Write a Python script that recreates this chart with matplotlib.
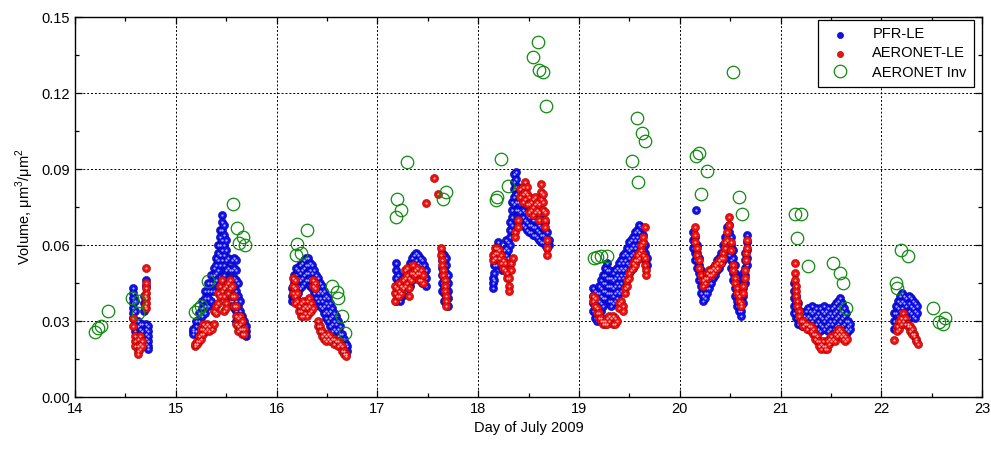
#!/usr/bin/env python3
"""
Aerosol volume concentration, PFR-LE vs AERONET-LE vs AERONET inversions,
14-23 July 2009.
"""

import numpy as np
import matplotlib.pyplot as plt
from matplotlib.ticker import MultipleLocator

plt.rcParams['font.family'] = ['Liberation Sans', 'DejaVu Sans']
plt.rcParams['mathtext.fontset'] = 'custom'
plt.rcParams['mathtext.rm'] = 'Liberation Sans'

# PFR-LE: columns of (day, [volumes])
pfr_d14 = [(14.58, [0.043, 0.041, 0.039, 0.037, 0.035, 0.033, 0.031]),
           (14.60, [0.038, 0.034, 0.030, 0.028, 0.026]),
           (14.62, [0.030, 0.028, 0.025, 0.023]),
           (14.64, [0.029, 0.027, 0.024, 0.022]),
           (14.66, [0.029, 0.026, 0.023, 0.021]),
           (14.68, [0.040, 0.037, 0.034]),
           (14.70, [0.046, 0.044, 0.029, 0.027, 0.025, 0.023, 0.021]),
           (14.72, [0.028, 0.026, 0.024, 0.022, 0.020, 0.019])]
pfr_d15 = [(15.17, [0.026, 0.025, 0.027]), (15.20, [0.028, 0.026, 0.030]),
           (15.23, [0.033, 0.030, 0.028]), (15.26, [0.038, 0.035, 0.032, 0.029]),
           (15.29, [0.042, 0.039, 0.036, 0.033]), (15.32, [0.045, 0.042, 0.039, 0.036]),
           (15.35, [0.048, 0.045, 0.042, 0.038]), (15.38, [0.051, 0.048, 0.045, 0.042]),
           (15.40, [0.055, 0.052, 0.049, 0.046]), (15.42, [0.060, 0.057, 0.054, 0.050]),
           (15.44, [0.066, 0.063, 0.060, 0.056, 0.052]),
           (15.46, [0.072, 0.069, 0.066, 0.062, 0.058, 0.054]),
           (15.48, [0.068, 0.064, 0.060, 0.056, 0.052, 0.048]),
           (15.50, [0.062, 0.058, 0.054, 0.050, 0.046]),
           (15.52, [0.055, 0.051, 0.047, 0.043]), (15.54, [0.050, 0.046, 0.042, 0.038]),
           (15.56, [0.054, 0.050, 0.046, 0.042, 0.038]),
           (15.58, [0.055, 0.051, 0.047, 0.043, 0.039, 0.035]),
           (15.60, [0.054, 0.050, 0.046, 0.042, 0.038, 0.034, 0.030]),
           (15.62, [0.045, 0.040, 0.036, 0.032, 0.028]),
           (15.64, [0.038, 0.034, 0.030, 0.027]), (15.66, [0.032, 0.029, 0.026]),
           (15.68, [0.030, 0.027, 0.025]), (15.70, [0.028, 0.026, 0.024])]
pfr_d16 = [(16.15, [0.043, 0.040, 0.038]), (16.17, [0.048, 0.045, 0.042, 0.039]),
           (16.19, [0.051, 0.048, 0.045, 0.042, 0.039]), (16.21, [0.050, 0.047, 0.044, 0.041]),
           (16.23, [0.052, 0.049, 0.046, 0.043]), (16.25, [0.053, 0.050, 0.047, 0.044]),
           (16.27, [0.054, 0.051, 0.048, 0.045]), (16.29, [0.055, 0.052, 0.049, 0.046]),
           (16.31, [0.055, 0.052, 0.049, 0.046]), (16.33, [0.053, 0.050, 0.047, 0.044]),
           (16.35, [0.052, 0.049, 0.046, 0.043]), (16.37, [0.050, 0.047, 0.044, 0.041]),
           (16.39, [0.048, 0.045, 0.042, 0.039]), (16.41, [0.047, 0.044, 0.041, 0.038]),
           (16.43, [0.045, 0.042, 0.039, 0.036]), (16.45, [0.044, 0.041, 0.038, 0.035]),
           (16.47, [0.042, 0.039, 0.036, 0.033]), (16.49, [0.040, 0.037, 0.034, 0.031]),
           (16.51, [0.039, 0.036, 0.033, 0.030]), (16.53, [0.037, 0.034, 0.031, 0.028]),
           (16.55, [0.035, 0.032, 0.029, 0.026]), (16.57, [0.033, 0.030, 0.027]),
           (16.59, [0.032, 0.029, 0.026]), (16.61, [0.030, 0.027, 0.024]),
           (16.63, [0.028, 0.025, 0.022]), (16.65, [0.025, 0.022, 0.020]),
           (16.67, [0.023, 0.021, 0.019]), (16.69, [0.021, 0.019, 0.018]),
           (16.70, [0.020, 0.018])]
pfr_d17 = [(17.18, [0.053, 0.050, 0.047, 0.044, 0.041, 0.038]),
           (17.20, [0.048, 0.045, 0.042, 0.039]), (17.22, [0.043, 0.040, 0.038]),
           (17.24, [0.045, 0.042, 0.040]), (17.26, [0.047, 0.044, 0.041]),
           (17.28, [0.048, 0.045, 0.042]), (17.30, [0.050, 0.047, 0.044]),
           (17.32, [0.053, 0.050, 0.047, 0.044]), (17.34, [0.055, 0.052, 0.049, 0.046]),
           (17.36, [0.056, 0.053, 0.050, 0.047]), (17.38, [0.057, 0.054, 0.051, 0.048]),
           (17.40, [0.056, 0.053, 0.050, 0.047]), (17.42, [0.055, 0.052, 0.049, 0.046]),
           (17.44, [0.054, 0.051, 0.048, 0.045]), (17.46, [0.052, 0.049, 0.046]),
           (17.48, [0.050, 0.047, 0.044]),
           (17.64, [0.057, 0.054, 0.051, 0.048, 0.045, 0.042]),
           (17.66, [0.056, 0.053, 0.050, 0.047, 0.044, 0.041, 0.038]),
           (17.68, [0.055, 0.052, 0.049, 0.046, 0.043, 0.040, 0.037]),
           (17.70, [0.048, 0.045, 0.042, 0.039, 0.036])]
pfr_d18 = [(18.15, [0.043, 0.045, 0.047]), (18.16, [0.046, 0.049, 0.052]),
           (18.18, [0.052, 0.055, 0.058]), (18.20, [0.056, 0.059, 0.061]),
           (18.22, [0.052, 0.055, 0.058]), (18.24, [0.050, 0.053]),
           (18.26, [0.052, 0.055, 0.058]), (18.28, [0.056, 0.059, 0.062]),
           (18.30, [0.055, 0.058, 0.061]), (18.32, [0.060, 0.063, 0.066, 0.069]),
           (18.34, [0.068, 0.071, 0.074, 0.077]),
           (18.36, [0.076, 0.079, 0.082, 0.085, 0.088]),
           (18.38, [0.074, 0.077, 0.080, 0.083, 0.086, 0.089]),
           (18.40, [0.068, 0.071, 0.074, 0.077, 0.080, 0.083]),
           (18.42, [0.070, 0.073, 0.076, 0.079]), (18.44, [0.068, 0.071, 0.074, 0.077]),
           (18.46, [0.067, 0.070, 0.073, 0.076]), (18.48, [0.066, 0.069, 0.072, 0.075]),
           (18.50, [0.065, 0.068, 0.071, 0.074]), (18.52, [0.065, 0.068, 0.071]),
           (18.54, [0.064, 0.067, 0.070]), (18.56, [0.064, 0.067, 0.070]),
           (18.58, [0.063, 0.066, 0.069]), (18.60, [0.062, 0.065, 0.068]),
           (18.62, [0.061, 0.064, 0.067, 0.070]), (18.64, [0.061, 0.064, 0.067, 0.070]),
           (18.66, [0.060, 0.063, 0.066, 0.069]), (18.68, [0.059, 0.062, 0.065]),
           (18.70, [0.060, 0.062])]
pfr_d19 = [(19.14, [0.043, 0.040, 0.037, 0.034]),
           (19.16, [0.042, 0.039, 0.036, 0.033, 0.031]),
           (19.18, [0.041, 0.038, 0.035, 0.032, 0.030]),
           (19.20, [0.044, 0.041, 0.038, 0.035, 0.032]),
           (19.22, [0.046, 0.043, 0.040, 0.037, 0.034]),
           (19.24, [0.048, 0.045, 0.042, 0.039, 0.036]),
           (19.26, [0.051, 0.048, 0.045, 0.042, 0.039]),
           (19.28, [0.053, 0.050, 0.047, 0.044, 0.041]),
           (19.30, [0.050, 0.047, 0.044, 0.041, 0.038]),
           (19.32, [0.047, 0.044, 0.041, 0.038, 0.036]),
           (19.34, [0.049, 0.046, 0.043, 0.040, 0.037]),
           (19.36, [0.050, 0.047, 0.044, 0.041, 0.038]),
           (19.38, [0.051, 0.048, 0.045, 0.042, 0.039]),
           (19.40, [0.053, 0.050, 0.047, 0.044, 0.041]),
           (19.42, [0.054, 0.051, 0.048, 0.045, 0.042]),
           (19.44, [0.056, 0.053, 0.050, 0.047, 0.044]),
           (19.46, [0.057, 0.054, 0.051, 0.048, 0.045]),
           (19.48, [0.059, 0.056, 0.053, 0.050, 0.047]),
           (19.50, [0.061, 0.058, 0.055, 0.052, 0.049]),
           (19.52, [0.062, 0.059, 0.056, 0.053, 0.050]),
           (19.54, [0.063, 0.060, 0.057, 0.054, 0.051]),
           (19.56, [0.065, 0.062, 0.059, 0.056, 0.053]),
           (19.58, [0.066, 0.063, 0.060, 0.057]),
           (19.60, [0.068, 0.065, 0.062, 0.059]),
           (19.62, [0.067, 0.064, 0.061, 0.058]),
           (19.64, [0.064, 0.061, 0.058, 0.055]),
           (19.66, [0.060, 0.057, 0.054]),
           (19.68, [0.055, 0.052])]
pfr_d20 = [(20.13, [0.065, 0.062, 0.059]), (20.15, [0.063, 0.060, 0.057, 0.054]),
           (20.16, [0.074]),
           (20.17, [0.060, 0.057, 0.054, 0.051]), (20.19, [0.055, 0.052, 0.049, 0.046]),
           (20.21, [0.050, 0.047, 0.044, 0.041]), (20.23, [0.046, 0.043, 0.040, 0.038]),
           (20.25, [0.044, 0.041, 0.039]), (20.27, [0.046, 0.043, 0.041]),
           (20.29, [0.047, 0.045, 0.043]), (20.31, [0.049, 0.047, 0.045]),
           (20.33, [0.051, 0.049, 0.047]), (20.35, [0.052, 0.050, 0.048]),
           (20.37, [0.054, 0.052, 0.050]), (20.39, [0.055, 0.053, 0.051]),
           (20.41, [0.057, 0.055, 0.053]), (20.43, [0.060, 0.057, 0.054]),
           (20.45, [0.063, 0.060, 0.057]), (20.47, [0.067, 0.064, 0.061, 0.058]),
           (20.49, [0.068, 0.065, 0.062, 0.059, 0.056]),
           (20.51, [0.063, 0.060, 0.057, 0.054, 0.051]),
           (20.53, [0.058, 0.055, 0.052, 0.049, 0.046]),
           (20.55, [0.052, 0.049, 0.046, 0.043, 0.040]),
           (20.57, [0.047, 0.044, 0.041, 0.038, 0.036]),
           (20.59, [0.043, 0.040, 0.037, 0.034]), (20.61, [0.040, 0.037, 0.034, 0.032]),
           (20.63, [0.049, 0.046, 0.043, 0.040, 0.037]),
           (20.65, [0.057, 0.054, 0.051, 0.048, 0.045]),
           (20.67, [0.064, 0.061, 0.058, 0.055, 0.052])]
pfr_d21 = [(21.13, [0.045, 0.042, 0.039, 0.036, 0.033]), (21.15, [0.040, 0.037, 0.034, 0.031]),
           (21.17, [0.037, 0.034, 0.031, 0.029]), (21.19, [0.034, 0.031, 0.029]),
           (21.21, [0.033, 0.030, 0.028]), (21.23, [0.032, 0.030, 0.028]),
           (21.25, [0.034, 0.031, 0.028]), (21.27, [0.035, 0.032, 0.029, 0.027]),
           (21.29, [0.034, 0.031, 0.028]), (21.31, [0.036, 0.033, 0.030, 0.027]),
           (21.33, [0.034, 0.031, 0.028]), (21.35, [0.035, 0.032, 0.029, 0.026]),
           (21.37, [0.033, 0.030, 0.027]), (21.39, [0.035, 0.032, 0.029, 0.026]),
           (21.41, [0.034, 0.031, 0.028]), (21.43, [0.036, 0.033, 0.030, 0.027]),
           (21.45, [0.034, 0.031, 0.028]), (21.47, [0.035, 0.032, 0.029, 0.026]),
           (21.49, [0.033, 0.030, 0.027]), (21.51, [0.035, 0.032, 0.029]),
           (21.53, [0.036, 0.033, 0.030, 0.027]), (21.55, [0.037, 0.034, 0.031, 0.028]),
           (21.57, [0.038, 0.035, 0.032, 0.029]), (21.59, [0.039, 0.036, 0.033, 0.030]),
           (21.61, [0.037, 0.034, 0.031, 0.028]), (21.63, [0.035, 0.032, 0.029, 0.026]),
           (21.65, [0.033, 0.030, 0.027, 0.025]), (21.67, [0.030, 0.028, 0.026]),
           (21.69, [0.029, 0.027])]
pfr_d22 = [(22.13, [0.033, 0.030, 0.027]), (22.15, [0.036, 0.033, 0.030, 0.027]),
           (22.17, [0.038, 0.035, 0.032, 0.029]), (22.19, [0.040, 0.037, 0.034, 0.031]),
           (22.21, [0.041, 0.038, 0.035, 0.032]), (22.23, [0.040, 0.037, 0.034, 0.031]),
           (22.25, [0.039, 0.036, 0.033, 0.030]), (22.27, [0.040, 0.037, 0.034, 0.031]),
           (22.29, [0.039, 0.036, 0.033]), (22.31, [0.038, 0.035, 0.032]),
           (22.33, [0.037, 0.034, 0.031]), (22.35, [0.036, 0.033])]

# AERONET-LE
aer_d14 = [(14.70, [0.051, 0.045, 0.043, 0.041, 0.039, 0.037, 0.035]),
           (14.69, [0.040, 0.036]), (14.58, [0.031, 0.028]),
           (14.60, [0.024, 0.022, 0.020]), (14.62, [0.023, 0.020, 0.018, 0.017]),
           (14.64, [0.024, 0.021, 0.019]), (14.66, [0.022, 0.020])]
aer_d15 = [(15.19, [0.020, 0.021]), (15.21, [0.021, 0.022]), (15.23, [0.022, 0.024]),
           (15.25, [0.023, 0.025, 0.027]), (15.27, [0.025, 0.027, 0.029]),
           (15.29, [0.026, 0.028]), (15.31, [0.027, 0.029]), (15.33, [0.026, 0.028]),
           (15.36, [0.027]), (15.38, [0.029, 0.034]), (15.40, [0.033, 0.036]),
           (15.42, [0.037, 0.041]), (15.44, [0.040, 0.044]), (15.46, [0.046, 0.042]),
           (15.48, [0.043, 0.040, 0.034]), (15.50, [0.044, 0.037, 0.035]),
           (15.52, [0.045, 0.041]), (15.54, [0.046, 0.043]), (15.56, [0.044, 0.040]),
           (15.58, [0.040, 0.036]), (15.60, [0.036, 0.032, 0.029]),
           (15.62, [0.031, 0.028, 0.026]), (15.64, [0.032, 0.029, 0.027]),
           (15.66, [0.030, 0.027, 0.025]), (15.68, [0.027, 0.025])]
aer_d16 = [(16.16, [0.047, 0.044, 0.041]), (16.18, [0.046, 0.043, 0.040, 0.037]),
           (16.20, [0.041, 0.038]), (16.22, [0.036, 0.034]),
           (16.24, [0.037, 0.034, 0.032]), (16.26, [0.038, 0.035, 0.032]),
           (16.28, [0.036, 0.033]), (16.30, [0.038, 0.035, 0.032]),
           (16.32, [0.039, 0.036, 0.033]), (16.34, [0.037, 0.034]),
           (16.36, [0.046, 0.044, 0.035]), (16.38, [0.045, 0.043]),
           (16.41, [0.030, 0.028]), (16.43, [0.028, 0.026]), (16.45, [0.026, 0.024]),
           (16.47, [0.025, 0.023]), (16.49, [0.024, 0.022]), (16.51, [0.025, 0.023]),
           (16.53, [0.024, 0.022]), (16.55, [0.023]), (16.57, [0.023, 0.021]),
           (16.59, [0.022]), (16.61, [0.022, 0.020]), (16.63, [0.021]),
           (16.65, [0.020, 0.018]), (16.67, [0.018, 0.017]), (16.69, [0.017, 0.016])]
aer_d17 = [(17.17, [0.044, 0.041, 0.038]), (17.19, [0.043, 0.040]),
           (17.21, [0.045, 0.042, 0.040]), (17.23, [0.044, 0.041]), (17.25, [0.046, 0.043]),
           (17.27, [0.050, 0.047, 0.044]), (17.29, [0.051, 0.048, 0.045]),
           (17.31, [0.047, 0.043, 0.040]), (17.33, [0.049, 0.046]), (17.35, [0.052, 0.049]),
           (17.37, [0.050, 0.048]), (17.39, [0.051, 0.049]), (17.41, [0.049, 0.046]),
           (17.43, [0.050, 0.046]), (17.45, [0.048, 0.045]),
           (17.48, [0.0766]), (17.56, [0.0865]), (17.60, [0.0801]),
           (17.63, [0.059, 0.056]), (17.64, [0.054, 0.052]), (17.65, [0.050, 0.048]),
           (17.67, [0.046, 0.044, 0.042]), (17.68, [0.040, 0.038, 0.036])]
aer_d18 = [(18.15, [0.054, 0.056]), (18.17, [0.055, 0.057, 0.059]), (18.19, [0.059, 0.057]),
           (18.21, [0.058, 0.055]), (18.23, [0.056, 0.053]), (18.25, [0.054, 0.051]),
           (18.27, [0.053, 0.050]), (18.29, [0.049, 0.047]), (18.31, [0.047, 0.044, 0.042]),
           (18.33, [0.053, 0.050]), (18.35, [0.055]), (18.37, [0.065, 0.063]),
           (18.40, [0.070, 0.067]), (18.42, [0.079, 0.082]), (18.44, [0.083, 0.080, 0.077]),
           (18.46, [0.085, 0.081, 0.078]), (18.48, [0.083, 0.080, 0.076]),
           (18.50, [0.079, 0.076, 0.073]), (18.52, [0.077, 0.074]),
           (18.54, [0.078, 0.075, 0.072]), (18.56, [0.079, 0.076, 0.073]),
           (18.58, [0.077, 0.074]), (18.60, [0.076, 0.073, 0.070]),
           (18.62, [0.084, 0.081, 0.078]), (18.64, [0.080, 0.077, 0.074]),
           (18.66, [0.073, 0.070, 0.067]), (18.68, [0.062, 0.059, 0.056])]
aer_d19 = [(19.14, [0.040, 0.038]), (19.16, [0.039, 0.036]), (19.18, [0.035, 0.033]),
           (19.20, [0.033, 0.031]), (19.22, [0.031, 0.030]), (19.24, [0.030, 0.029]),
           (19.26, [0.029, 0.030]), (19.28, [0.031, 0.029]), (19.30, [0.032, 0.030]),
           (19.32, [0.031]), (19.34, [0.032, 0.029]), (19.36, [0.031, 0.029]),
           (19.38, [0.030]), (19.40, [0.037, 0.035]), (19.42, [0.038]),
           (19.44, [0.036, 0.034]), (19.46, [0.041, 0.043]), (19.48, [0.044, 0.046]),
           (19.50, [0.047, 0.049]), (19.52, [0.050]), (19.54, [0.051, 0.053]),
           (19.56, [0.054, 0.052]), (19.58, [0.056, 0.054]), (19.60, [0.057, 0.055]),
           (19.62, [0.058, 0.060]), (19.64, [0.061, 0.063, 0.056]),
           (19.66, [0.067, 0.055, 0.052]), (19.67, [0.050, 0.048])]
aer_d20 = [(20.15, [0.067, 0.064, 0.061]), (20.17, [0.059, 0.056]), (20.19, [0.054, 0.051]),
           (20.21, [0.048]), (20.23, [0.046, 0.044]), (20.25, [0.047, 0.045]),
           (20.27, [0.049, 0.047]), (20.29, [0.050, 0.048]), (20.31, [0.050, 0.048]),
           (20.33, [0.051, 0.049]), (20.35, [0.052, 0.050]), (20.37, [0.053, 0.051]),
           (20.39, [0.054]), (20.41, [0.055, 0.053]), (20.43, [0.057, 0.055]),
           (20.45, [0.059, 0.061]), (20.47, [0.065, 0.062]), (20.49, [0.068, 0.071]),
           (20.51, [0.061, 0.058]), (20.53, [0.052, 0.050]), (20.55, [0.047, 0.045]),
           (20.57, [0.043, 0.041]), (20.59, [0.040, 0.038]), (20.61, [0.037, 0.036]),
           (20.63, [0.044, 0.041]), (20.65, [0.050, 0.047]), (20.66, [0.057, 0.054]),
           (20.67, [0.062, 0.059])]
aer_d21 = [(21.14, [0.053, 0.049, 0.046]), (21.15, [0.044, 0.042, 0.040]),
           (21.16, [0.038, 0.036]), (21.18, [0.034, 0.032]), (21.20, [0.030]),
           (21.22, [0.030, 0.028]), (21.24, [0.029]), (21.26, [0.029, 0.027]),
           (21.28, [0.028]), (21.30, [0.028, 0.026]), (21.32, [0.027, 0.025]),
           (21.34, [0.025, 0.023]), (21.36, [0.024, 0.022]), (21.38, [0.022, 0.020]),
           (21.40, [0.021, 0.019]), (21.42, [0.022, 0.020]), (21.44, [0.020, 0.019]),
           (21.46, [0.022, 0.019]), (21.48, [0.023, 0.021]), (21.50, [0.024, 0.022]),
           (21.52, [0.023]), (21.54, [0.025, 0.022]), (21.56, [0.026, 0.024]),
           (21.58, [0.027, 0.025]), (21.60, [0.026, 0.024]), (21.62, [0.025, 0.023]),
           (21.64, [0.024, 0.022]), (21.66, [0.023])]
aer_d22 = [(22.13, [0.0225]), (22.16, [0.028, 0.026]), (22.18, [0.030, 0.027]),
           (22.20, [0.031, 0.029]), (22.22, [0.033, 0.030]), (22.24, [0.031, 0.029]),
           (22.26, [0.029, 0.028]), (22.28, [0.028, 0.026]), (22.30, [0.027, 0.025]),
           (22.32, [0.025, 0.024]), (22.34, [0.023, 0.022]), (22.36, [0.021])]

# AERONET inversions
inv_day = [14.198, 14.228, 14.257, 14.326, 14.564, 14.633, 14.623,
           15.187, 15.217, 15.246, 15.316, 15.563, 15.612, 15.662, 15.632, 15.691,
           16.305, 16.206, 16.196, 16.245, 16.552, 16.601, 16.611, 16.651, 16.681,
           17.294, 17.195, 17.234, 17.185, 17.680, 17.650,
           18.590, 18.540, 18.600, 18.639, 18.669, 18.224, 18.293, 18.184, 18.174,
           19.579, 19.628, 19.658, 19.529, 19.589, 19.153, 19.183, 19.222, 19.282,
           20.162, 20.192, 20.271, 20.212, 20.528, 20.588, 20.617,
           21.141, 21.201, 21.161, 21.270, 21.517, 21.587, 21.616, 21.646,
           22.200, 22.269, 22.150, 22.160, 22.516, 22.576, 22.615, 22.635]
inv_vol = [0.0257, 0.0272, 0.0280, 0.0340, 0.0391, 0.0379, 0.0332,
           0.0336, 0.0347, 0.0359, 0.0458, 0.0762, 0.0667, 0.0632, 0.0608, 0.0600,
           0.0659, 0.0604, 0.0561, 0.0568, 0.0438, 0.0414, 0.0391, 0.0320, 0.0253,
           0.0928, 0.0782, 0.0738, 0.0711, 0.0809, 0.0782,
           0.1401, 0.1342, 0.1291, 0.1283, 0.1149, 0.0939, 0.0833, 0.0789, 0.0778,
           0.1101, 0.1042, 0.1011, 0.0932, 0.0849, 0.0549, 0.0553, 0.0557, 0.0557,
           0.0951, 0.0963, 0.0892, 0.0801, 0.1283, 0.0789, 0.0722,
           0.0722, 0.0722, 0.0628, 0.0517, 0.0529, 0.0489, 0.0450, 0.0351,
           0.0580, 0.0557, 0.0450, 0.0430, 0.0351, 0.0296, 0.0288, 0.0312]


def flatten(*days):
    xs, ys = [], []
    for day in days:
        for x, col in day:
            xs += [x] * len(col)
            ys += col
    return np.array(xs), np.array(ys)


pfr_x, pfr_y = flatten(pfr_d14, pfr_d15, pfr_d16, pfr_d17, pfr_d18,
                       pfr_d19, pfr_d20, pfr_d21, pfr_d22)
aer_x, aer_y = flatten(aer_d14, aer_d15, aer_d16, aer_d17, aer_d18,
                       aer_d19, aer_d20, aer_d21, aer_d22)

fig = plt.figure(figsize=(9.91, 4.51), dpi=100)
ax = fig.add_axes([0.0757, 0.1197, 0.9153, 0.8426])

# shaded "ball" markers: solid disc plus a pale highlight
ax.scatter(pfr_x, pfr_y, s=34, c='#1010f0', edgecolors='#0000a0',
           linewidths=0.4, zorder=3, label='PFR-LE')
ax.scatter(pfr_x, pfr_y, s=2.5, c='#b0b0ff', linewidths=0, zorder=3.1)
ax.scatter(aer_x, aer_y, s=34, c='#f01010', edgecolors='#a00000',
           linewidths=0.4, zorder=4, label='AERONET-LE')
ax.scatter(aer_x, aer_y, s=2.5, c='#ffb0b0', linewidths=0, zorder=4.1)
ax.plot(inv_day, inv_vol, 'o', ls='none', ms=9, mfc='none', mec='#108a10',
        mew=0.9, zorder=5, label='AERONET Inv')

ax.set_xlim(14, 23)
ax.set_ylim(0, 0.15)
ax.xaxis.set_major_locator(MultipleLocator(1))
ax.xaxis.set_minor_locator(MultipleLocator(0.5))
ax.yaxis.set_major_locator(MultipleLocator(0.03))
ax.yaxis.set_minor_locator(MultipleLocator(0.015))
ax.yaxis.set_major_formatter(plt.FormatStrFormatter('%.2f'))
ax.tick_params(which='both', direction='in', top=True, right=True,
               labelsize=10.5, width=0.9)
ax.tick_params(which='major', length=5)
ax.tick_params(which='minor', length=3)
ax.grid(True, which='major', color='black', linestyle=(0, (2, 2)), linewidth=0.7)
for sp in ax.spines.values():
    sp.set_linewidth(1.0)

ax.set_xlabel('Day of July 2009', fontsize=10.5)
ax.set_ylabel(r'Volume, μm$^3$/μm$^2$', fontsize=10.5)

leg = ax.legend(loc='upper right', bbox_to_anchor=(0.991, 0.992), fontsize=10.5,
                frameon=True, fancybox=False, edgecolor='black', framealpha=1,
                borderpad=0.5, handletextpad=1.2, labelspacing=0.35,
                borderaxespad=0)
leg.get_frame().set_linewidth(0.9)
leg.legend_handles[0].set_sizes([20])
leg.legend_handles[1].set_sizes([20])

fig.savefig('out.png', dpi=100)
plt.close(fig)
